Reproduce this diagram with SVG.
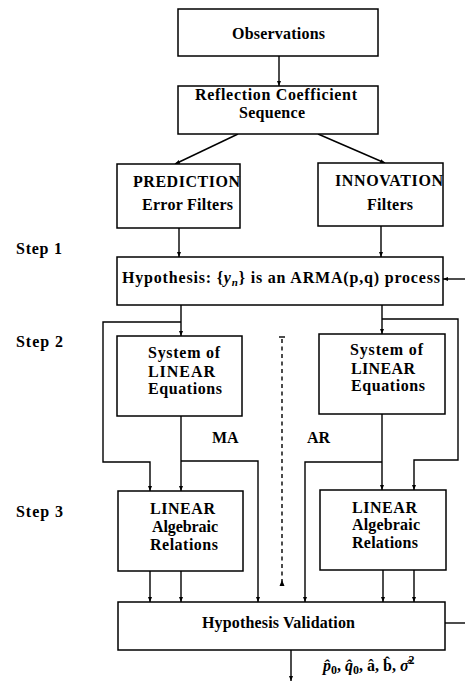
<svg xmlns="http://www.w3.org/2000/svg" width="465" height="683" viewBox="0 0 465 683">
<style>
.box{fill:#fff;stroke:#000;stroke-width:1.5}
.ln{fill:none;stroke:#000;stroke-width:1.4}
.dash{fill:none;stroke:#000;stroke-width:1.4;stroke-dasharray:4,3.5}
text{font-family:"Liberation Serif","DejaVu Serif","Times New Roman",serif;font-weight:bold;font-size:16px;fill:#000}
</style>
<defs>
<marker id="ah" viewBox="0 0 10 10" refX="10" refY="5" markerWidth="5" markerHeight="5" orient="auto" markerUnits="userSpaceOnUse">
<path d="M0,1 L10,5 L0,9 Z" fill="#000"/>
</marker>
</defs>
<rect width="465" height="683" fill="#fff"/>

<g id="connectors">
<line class="ln" x1="279" y1="56" x2="279" y2="86" marker-end="url(#ah)"/>
<line class="ln" x1="238" y1="134" x2="175" y2="164" marker-end="url(#ah)"/>
<line class="ln" x1="318" y1="134" x2="385" y2="163" marker-end="url(#ah)"/>
<line class="ln" x1="179" y1="228" x2="179" y2="257" marker-end="url(#ah)"/>
<line class="ln" x1="381" y1="226" x2="381" y2="257" marker-end="url(#ah)"/>
<line class="ln" x1="465" y1="279" x2="443" y2="279" marker-end="url(#ah)"/>
<line class="ln" x1="181" y1="305" x2="181" y2="336" marker-end="url(#ah)"/>
<line class="ln" x1="382" y1="305" x2="382" y2="334" marker-end="url(#ah)"/>
<polyline class="ln" points="181,322 103,322 103,462 150,462 150,491" marker-end="url(#ah)"/>
<polyline class="ln" points="382,319 458,319 458,460 414,460 414,490" marker-end="url(#ah)"/>
<line class="ln" x1="181" y1="416" x2="181" y2="491" marker-end="url(#ah)"/>
<line class="ln" x1="382" y1="414" x2="382" y2="490" marker-end="url(#ah)"/>
<polyline class="ln" points="181,461 258,461 258,602" marker-end="url(#ah)"/>
<polyline class="ln" points="382,462 305,462 305,602" marker-end="url(#ah)"/>
<line class="ln" x1="150" y1="571" x2="150" y2="602" marker-end="url(#ah)"/>
<line class="ln" x1="181" y1="571" x2="181" y2="602" marker-end="url(#ah)"/>
<line class="ln" x1="383" y1="570" x2="383" y2="602" marker-end="url(#ah)"/>
<line class="ln" x1="414" y1="570" x2="414" y2="602" marker-end="url(#ah)"/>
<line class="ln" x1="445" y1="623" x2="465" y2="623"/>
<line class="ln" x1="291" y1="650" x2="291" y2="681" marker-end="url(#ah)"/>
<line class="dash" x1="282" y1="339" x2="282" y2="582"/>
<line class="ln" x1="279" y1="337" x2="285" y2="337"/>
<path d="M279.5,586 L282,580 L284.5,586 Z" fill="#000"/>
</g>

<g id="observations">
<rect class="box" x="178" y="9" width="200" height="47"/>
<text x="232" y="39" textLength="93">Observations</text>
</g>
<g id="reflection">
<rect class="box" x="178" y="86" width="200" height="48"/>
<text x="195" y="100" textLength="162">Reflection Coefficient</text>
<text x="239" y="118" textLength="66">Sequence</text>
</g>
<g id="prediction">
<rect class="box" x="117" y="164" width="123" height="64"/>
<text x="133" y="187" textLength="107">PREDICTION</text>
<text x="142" y="210" textLength="91">Error Filters</text>
</g>
<g id="innovation">
<rect class="box" x="318" y="163" width="125" height="63"/>
<text x="335" y="186" textLength="108">INNOVATION</text>
<text x="367" y="210" textLength="46">Filters</text>
</g>
<g id="hypothesis">
<rect class="box" x="117" y="257" width="326" height="48"/>
<text x="122" y="283" textLength="318">Hypothesis: {<tspan font-style="italic">y</tspan><tspan font-style="italic" font-size="11" dy="3">n</tspan><tspan dy="-3">} is an ARMA(p,q) process</tspan></text>
</g>
<g id="system-left">
<rect class="box" x="117" y="336" width="125" height="80"/>
<text x="148" y="358" textLength="72">System of</text>
<text x="148" y="377" textLength="67">LINEAR</text>
<text x="148" y="394" textLength="74">Equations</text>
</g>
<g id="system-right">
<rect class="box" x="319" y="334" width="126" height="80"/>
<text x="350" y="355" textLength="73">System of</text>
<text x="351" y="374" textLength="64">LINEAR</text>
<text x="351" y="391" textLength="74">Equations</text>
</g>
<g id="labels">
<text x="16" y="254" textLength="46">Step 1</text>
<text x="16" y="347" textLength="47">Step 2</text>
<text x="16" y="517" textLength="47">Step 3</text>
<text x="212" y="443">MA</text>
<text x="307" y="443">AR</text>
</g>
<g id="linear-left">
<rect class="box" x="118" y="491" width="125" height="80"/>
<text x="150" y="514" textLength="65">LINEAR</text>
<text x="152" y="532" textLength="66">Algebraic</text>
<text x="150" y="550" textLength="68">Relations</text>
</g>
<g id="linear-right">
<rect class="box" x="320" y="490" width="126" height="80"/>
<text x="352" y="513" textLength="65">LINEAR</text>
<text x="352" y="530" textLength="68">Algebraic</text>
<text x="352" y="548" textLength="66">Relations</text>
</g>
<g id="validation">
<rect class="box" x="118" y="602" width="327" height="48"/>
<text x="202" y="628" textLength="153">Hypothesis Validation</text>
</g>
<g id="output">
<text x="323" y="671" font-size="18"><tspan font-style="italic">p̂</tspan><tspan font-size="12" dy="3">0</tspan><tspan dy="-3">, </tspan><tspan font-style="italic">q̂</tspan><tspan font-size="12" dy="3">0</tspan><tspan dy="-3">, â, b̂, </tspan><tspan font-style="italic">σ̂</tspan><tspan font-size="12" dy="-7">2</tspan></text>
</g>
</svg>
